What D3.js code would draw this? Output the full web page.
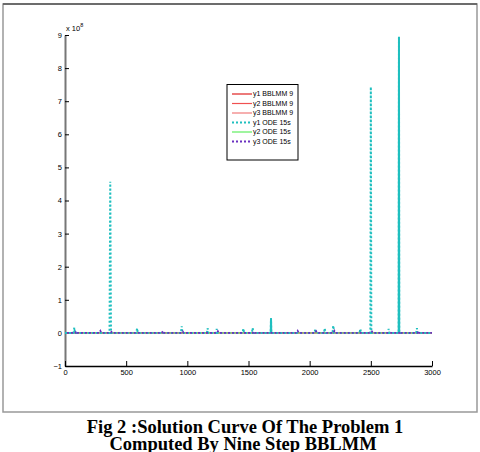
<!DOCTYPE html>
<html><head><meta charset="utf-8">
<script src="https://cdn.jsdelivr.net/npm/d3@7/dist/d3.min.js"></script>
<style>body{margin:0;background:#fff}svg{display:block}</style>
</head><body>
<script>
// ---- data (values in units of 1e8) ----
const xTicks = [0, 500, 1000, 1500, 2000, 2500, 3000];
const yTicks = [-1, 0, 1, 2, 3, 4, 5, 6, 7, 8, 9];
const seriesNames = ["y1 BBLMM 9", "y2 BBLMM 9", "y3 BBLMM 9", "y1 ODE 15s", "y2 ODE 15s", "y3 ODE 15s"];
const bblmmT = [0, 3000];
const bblmmY1 = [0, 0];
const bblmmY2 = [0, 0];
const bblmmY3 = [0, 0];
const odeY2T = [0, 3000];
const odeY2V = [0, 0];
const odeY1T = [0, 70, 76, 82, 364, 370, 376, 583, 589, 595, 948, 954, 960, 1160, 1166, 1172, 1234, 1240, 1246,
  1452, 1458, 1464, 1528, 1534, 1540, 1682, 1684, 1686, 2040, 2046, 2052, 2117, 2123, 2129, 2187, 2193, 2199,
  2408, 2414, 2420, 2496, 2500, 2504, 2640, 2646, 2652, 2728, 2730, 2732, 2871, 2877, 2883, 3000];
const odeY1V = [0, 0, 0.16, 0, 0, 4.57, 0, 0, 0.14, 0, 0, 0.2, 0, 0, 0.14, 0, 0, 0.12, 0,
  0, 0.13, 0, 0, 0.15, 0, 0, 0.44, 0, 0, 0.12, 0, 0, 0.14, 0, 0, 0.22, 0,
  0, 0.12, 0, 0, 7.43, 0, 0, 0.12, 0, 0, 8.95, 0, 0, 0.14, 0, 0];
const solidSpikeT = [1684, 2730];
const odeY3T = [0, 84, 90, 98, 280, 289, 298, 374, 380, 388, 792, 801, 810, 955, 962, 970, 1244, 1250, 1258,
  1536, 1542, 1550, 1893, 1902, 1911, 2044, 2052, 2060, 2196, 2202, 2210, 2504, 2510, 2518, 2734, 2740, 2748, 2880, 2887, 2895, 3000];
const odeY3V = [0, 0, 0.05, 0, 0, 0.06, 0, 0, 0.03, 0, 0, 0.06, 0, 0, 0.04, 0, 0, 0.05, 0,
  0, 0.04, 0, 0, 0.06, 0, 0, 0.05, 0, 0, 0.06, 0, 0, 0.04, 0, 0, 0.04, 0, 0, 0.06, 0, 0];

const W = 480, H = 452;
const svg = d3.select("body").append("svg").attr("width", W).attr("height", H);

// outer frame
svg.append("rect").attr("x", 3).attr("y", 4).attr("width", 474).attr("height", 408)
  .attr("fill", "#fff").attr("stroke", "#999").attr("stroke-width", 1.5);
svg.append("line").attr("x1", 3).attr("x2", 477).attr("y1", 4).attr("y2", 4)
  .attr("stroke", "#555").attr("stroke-width", 1.5);

const x = d3.scaleLinear().domain([0, 3000]).range([65, 432]);
const y = d3.scaleLinear().domain([-1, 9]).range([366, 35]);

const tickFont = "'Liberation Sans Narrow', Arial, 'Liberation Sans', sans-serif";

// axes
const yAxis = svg.append("g").attr("transform", `translate(${x(0)},0)`)
  .call(d3.axisLeft(y).tickValues(yTicks).tickSizeInner(-4).tickSizeOuter(0).tickPadding(3).tickFormat(d3.format("d")));
yAxis.select(".domain").attr("stroke", "#777").attr("stroke-width", 2);
yAxis.selectAll(".tick line").attr("stroke", "#000");
yAxis.selectAll(".tick text").attr("font-size", 7.5).attr("font-family", tickFont).attr("fill", "#000");

const xAxis = svg.append("g").attr("transform", `translate(0,${y(-1)})`)
  .call(d3.axisBottom(x).tickValues(xTicks).tickSizeInner(-5).tickSizeOuter(0).tickPadding(4).tickFormat(d3.format("d")));
xAxis.select(".domain").attr("stroke", "#000").attr("stroke-width", 1.5);
xAxis.selectAll(".tick line").attr("stroke", "#000");
xAxis.selectAll(".tick text").attr("font-size", 7.5).attr("font-family", tickFont).attr("fill", "#000");

// exponent label
const expo = svg.append("text").attr("x", x(0) + 1).attr("y", y(9) - 4)
  .attr("font-size", 7.5).attr("font-family", tickFont).attr("fill", "#000");
expo.append("tspan").text("x 10");
expo.append("tspan").attr("dy", -4).attr("font-size", 5.5).text("8");

const line = d3.line().x(d => x(d[0])).y(d => y(d[1]));
const zip = (t, v) => t.map((d, i) => [d, v[i]]);

const colors = ["#e02020", "#f05050", "#f07a7a", "#1fbfbf", "#5fef5f", "#6a30c0"];
const dashes = [null, null, null, "2,2", null, "2,2"];

const g = svg.append("g");
g.append("path").datum(zip(bblmmT, bblmmY1)).attr("d", line).attr("fill", "none").attr("stroke", colors[0]).attr("stroke-width", 1);
g.append("path").datum(zip(bblmmT, bblmmY2)).attr("d", line).attr("fill", "none").attr("stroke", colors[1]).attr("stroke-width", 1);
g.append("path").datum(zip(bblmmT, bblmmY3)).attr("d", line).attr("fill", "none").attr("stroke", colors[2]).attr("stroke-width", 1);
g.append("path").datum(zip(odeY2T, odeY2V)).attr("d", line).attr("fill", "none").attr("stroke", colors[4]).attr("stroke-width", 1);
const y1pts = zip(odeY1T, odeY1V);
g.append("path").datum(y1pts).attr("d", line).attr("fill", "none").attr("stroke", colors[3])
  .attr("stroke-width", 2).attr("stroke-dasharray", "2,2");
// spikes that render solid in the original
solidSpikeT.forEach(t => {
  const i = odeY1T.indexOf(t);
  g.append("path").datum(y1pts.slice(i - 1, i + 2)).attr("d", line).attr("fill", "none")
    .attr("stroke", colors[3]).attr("stroke-width", 2);
});
g.append("path").datum(zip(odeY3T, odeY3V)).attr("d", line).attr("fill", "none").attr("stroke", colors[5])
  .attr("stroke-width", 1.8).attr("stroke-dasharray", "2,2").attr("stroke-dashoffset", 2);

// legend
const lg = svg.append("g").attr("transform", "translate(227,84.5)");
lg.append("rect").attr("width", 71).attr("height", 75.5).attr("fill", "#fff").attr("stroke", "#000").attr("stroke-width", 1);
seriesNames.forEach((n, i) => {
  const yy = 9.5 + i * 9.5;
  lg.append("line").attr("x1", 5).attr("x2", 25).attr("y1", yy).attr("y2", yy)
    .attr("stroke", colors[i]).attr("stroke-width", dashes[i] ? 2 : 1.2)
    .attr("stroke-dasharray", dashes[i]);
  lg.append("text").attr("x", 26).attr("y", yy + 2.4).attr("font-size", 7)
    .attr("font-family", tickFont).attr("fill", "#000").text(n);
});

// caption
const cap = svg.append("text").attr("text-anchor", "middle").attr("font-family", "'Liberation Serif', 'Times New Roman', serif")
  .attr("font-weight", "bold").attr("font-size", 18.5).attr("fill", "#000");
cap.append("tspan").attr("x", 245).attr("y", 433).text("Fig 2 :Solution Curve Of The Problem 1");
cap.append("tspan").attr("x", 243).attr("y", 450).text("Computed By Nine Step BBLMM");
</script>
</body></html>
